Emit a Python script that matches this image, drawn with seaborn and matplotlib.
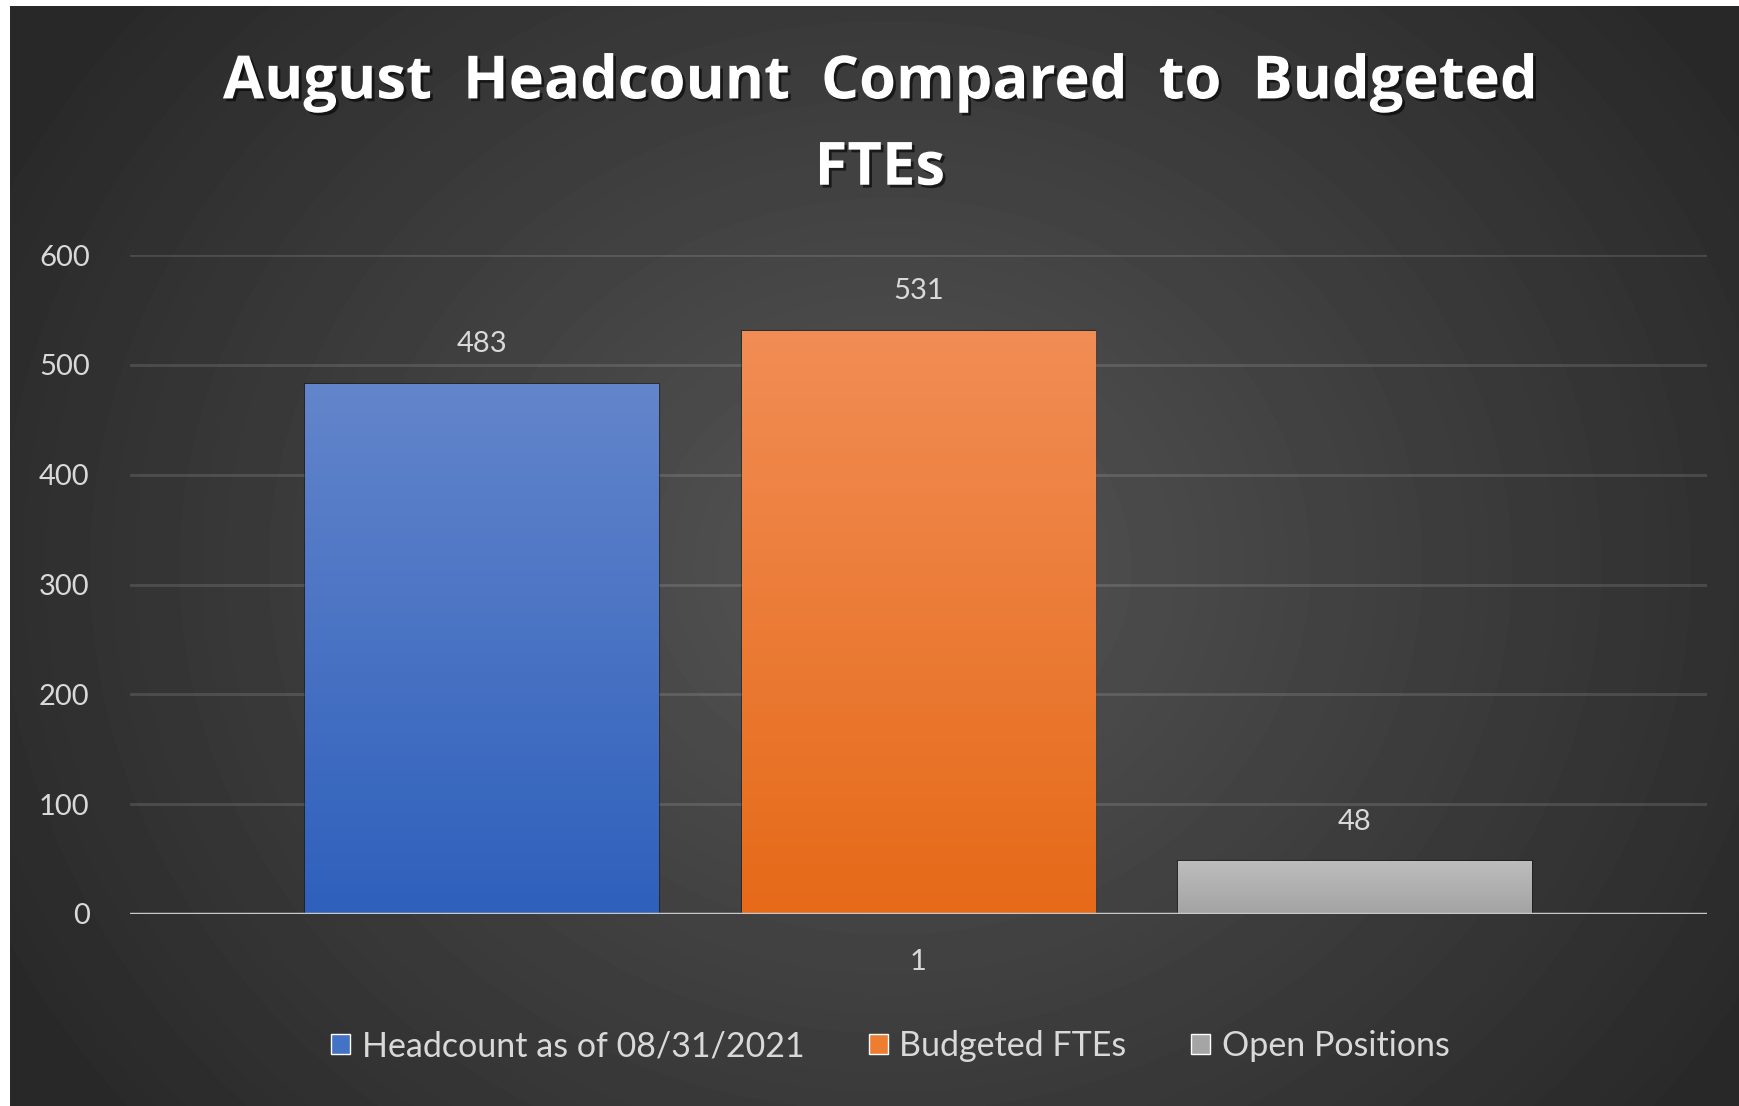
import numpy as np
import pandas as pd
import matplotlib
matplotlib.use('Agg')
import matplotlib.pyplot as plt
import matplotlib.patheffects as pe
from matplotlib.patches import Patch
from matplotlib.colors import LinearSegmentedColormap
import seaborn as sns

# data
categories = ['1']
series = ['Headcount as of 08/31/2021', 'Budgeted FTEs', 'Open Positions']
values = [483, 531, 48]
y_ticks = [0, 100, 200, 300, 400, 500, 600]

colors = ['#4472c4', '#ed7d31', '#a5a5a5']
grad_top = ['#6385cb', '#f18d55', '#bdbdbd']
grad_bottom = ['#2e60bc', '#e66a18', '#a3a3a3']

df = pd.DataFrame({
    'period': categories * len(series),
    'series': series,
    'value': values,
})

sns.set_theme(style='dark')
plt.rcParams['font.family'] = ['Lato', 'DejaVu Sans']

W, H = 1739, 1106
fig = plt.figure(figsize=(W / 100, H / 100), dpi=100, facecolor='white')

# dark radial background panel (white strip on top/left like the screenshot)
bg = fig.add_axes([10 / W, 0, 1 - 10 / W, 1 - 6 / H], zorder=0)
bh, bw = 1100, 1729
yy, xx = np.mgrid[0:bh, 0:bw]
r = np.sqrt(((xx - 880) / (bw * 0.58)) ** 2 + ((yy - 560) / (bh * 0.8)) ** 2)
shade = 0.335 - 0.175 * np.clip(r, 0, 1)
bg.imshow(shade, cmap='gray', vmin=0, vmax=1, aspect='auto', interpolation='bilinear')
bg.axis('off')

ax = fig.add_axes([130 / W, 192 / H, 1577 / W, 659 / H], zorder=1)
ax.set_facecolor('none')

sns.barplot(data=df, x='period', y='value', hue='series', palette=colors,
            width=0.83, gap=0.19, saturation=1, errorbar=None, legend=False, ax=ax)

# vertical gradient fill inside every bar
for patch, top, bot in zip(ax.patches, grad_top, grad_bottom):
    x0, y0 = patch.get_x(), patch.get_y()
    pw, ph = patch.get_width(), patch.get_height()
    cmap = LinearSegmentedColormap.from_list('g', [bot, top])
    grad = np.linspace(1, 0, 256).reshape(-1, 1)
    im = ax.imshow(grad, cmap=cmap, extent=[x0, x0 + pw, y0, y0 + ph],
                   aspect='auto', zorder=2, interpolation='bilinear')
    im.set_clip_path(patch)
    patch.set_edgecolor((0, 0, 0, 0.35))
    patch.set_linewidth(1.5)

for cont in ax.containers:
    ax.bar_label(cont, padding=19, color='#d9d9d9', fontsize=21)

ax.set_xlim(-0.5, 0.5)
ax.set_ylim(0, 600)
ax.set_yticks(y_ticks)
ax.yaxis.grid(True, color='white', alpha=0.13, lw=2)
ax.xaxis.grid(False)
for s in ax.spines.values():
    s.set_visible(False)
ax.axhline(0, color='#c8c8c8', lw=2.5, zorder=5)
ax.tick_params(axis='y', length=0, pad=29, labelcolor='#d9d9d9', labelsize=21)
ax.tick_params(axis='x', length=0, pad=25, labelcolor='#d9d9d9', labelsize=21)
ax.set_xlabel('')
ax.set_ylabel('')

handles = [Patch(facecolor=c) for c in colors]
fig.legend(handles, series, loc='center', bbox_to_anchor=(0.512, 0.054), ncol=3,
           frameon=False, fontsize=24.5, labelcolor='#d9d9d9', handlelength=0.55,
           handleheight=0.55, handletextpad=0.35, columnspacing=1.9)

fig.text(0.506, 0.886, 'August  Headcount  Compared  to  Budgeted\nFTEs',
         ha='center', va='center', fontsize=43, fontweight='bold', color='white',
         family=['Open Sans', 'DejaVu Sans'], linespacing=1.55,
         path_effects=[pe.SimplePatchShadow(offset=(2, -2), shadow_rgbFace='black', alpha=0.6),
                       pe.Normal()])

fig.savefig('out.png', dpi=100)
